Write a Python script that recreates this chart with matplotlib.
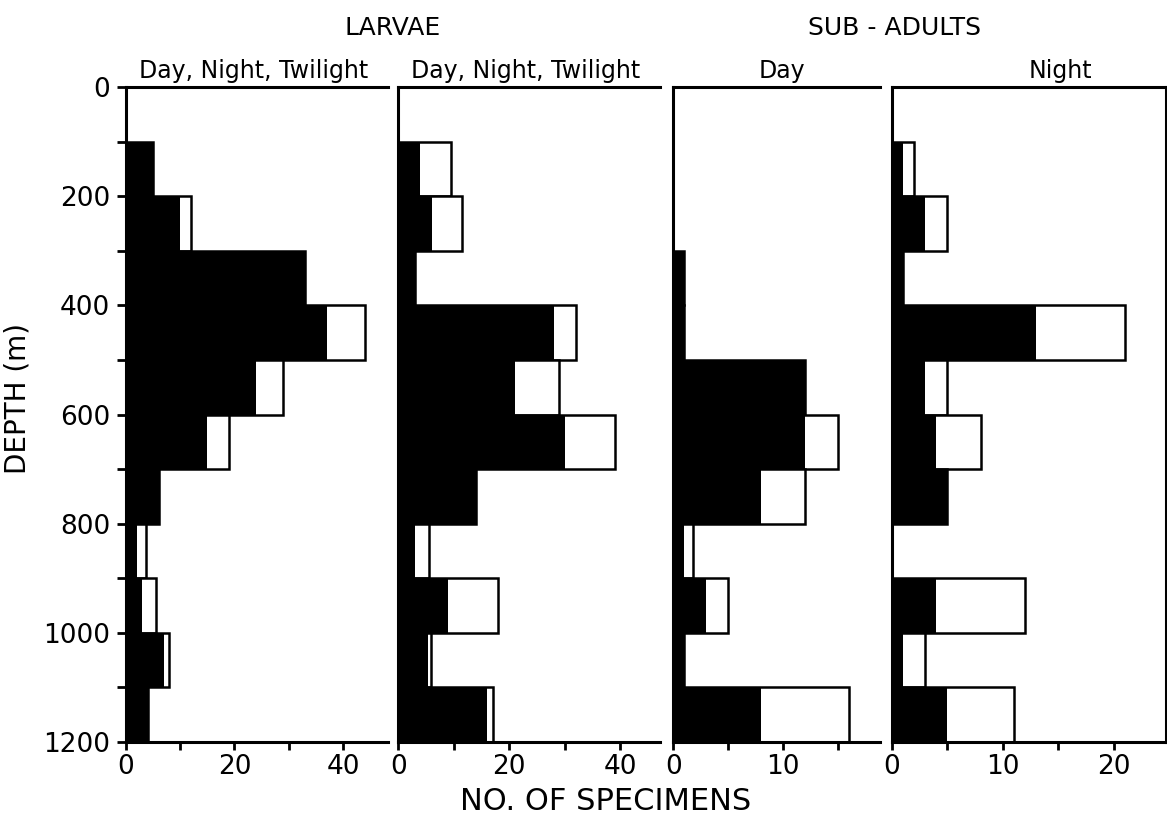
import matplotlib.pyplot as plt
import numpy as np

plt.rcParams['font.family'] = 'DejaVu Sans'

# depth bins (top of each 100 m bin)
depth = np.arange(0, 1200, 100)

# black = filled part, total = end of open (white) part
larvae_a_black = [0, 5, 10, 33, 37, 24, 15, 6, 2, 3, 7, 4]
larvae_a_total = [0, 5, 12, 33, 44, 29, 19, 6, 3.7, 5.5, 8, 4]
larvae_b_black = [0, 4, 6, 3, 28, 21, 30, 14, 3, 9, 5.3, 16]
larvae_b_total = [0, 9.5, 11.5, 3, 32, 29, 39, 14, 5.5, 18, 5.9, 17]
sub_day_black = [0, 0, 0, 1, 1, 12, 12, 8, 1, 3, 1, 8]
sub_day_total = [0, 0, 0, 1, 1, 12, 15, 12, 1.8, 5, 1, 16]
sub_night_black = [0, 1, 3, 1, 13, 3, 4, 5, 0, 4, 1, 5]
sub_night_total = [0, 2, 5, 1, 21, 5, 8, 5, 0, 12, 3, 11]

subtitles = ['Day, Night, Twilight', 'Day, Night, Twilight', 'Day', 'Night']

W, H = 1167, 827
fig = plt.figure(figsize=(W / 100, H / 100), dpi=100)

# pixel extents of each panel (left, right)
extents = [(126, 388), (398.3, 660), (673.3, 880), (891.7, 1166)]
top_px, bot_px = 87, 742
xmax = [48.3, 47.2, 18.8, 24.7]
majors = [[0, 20, 40], [0, 20, 40], [0, 10], [0, 10, 20]]
minors = [[10, 30], [10, 30], [5, 15], [5, 15]]
blacks = [larvae_a_black, larvae_b_black, sub_day_black, sub_night_black]
totals = [larvae_a_total, larvae_b_total, sub_day_total, sub_night_total]
sub_x = [254, 526, 782, 1060]

for i in range(4):
    l, r = extents[i]
    ax = fig.add_axes([l / W, 1 - bot_px / H, (r - l) / W, (bot_px - top_px) / H])
    ax.barh(depth, totals[i], height=100, align='edge', color='white',
            edgecolor='black', linewidth=1.8, zorder=2)
    ax.barh(depth, blacks[i], height=100, align='edge', color='black',
            edgecolor='none', zorder=3)
    ax.set_xlim(0, xmax[i])
    ax.set_ylim(1200, 0)
    for s in ax.spines.values():
        s.set_linewidth(2.2)
        s.set_zorder(4)
    if i < 3:
        ax.spines['right'].set_visible(False)
    ax.set_xticks(majors[i])
    ax.set_xticks(minors[i], minor=True)
    ax.tick_params(axis='x', which='both', direction='out', length=6, width=2,
                   labelsize=19, pad=3)
    if i == 0:
        ax.set_yticks(np.arange(0, 1201, 200))
        ax.set_yticks(np.arange(100, 1200, 200), minor=True)
        ax.tick_params(axis='y', which='both', direction='out', length=6.5, width=2,
                       labelsize=19, pad=5)
    else:
        ax.set_yticks([])
        ax.set_yticks([], minor=True)
    fig.text(sub_x[i] / W, 1 - 78 / H, subtitles[i], ha='center', va='baseline',
             fontsize=17)

fig.text(393 / W, 1 - 35 / H, 'LARVAE', ha='center', va='baseline', fontsize=18)
fig.text(895 / W, 1 - 35 / H, 'SUB - ADULTS', ha='center', va='baseline', fontsize=18)
fig.text(606 / W, 1 - 802 / H, 'NO. OF SPECIMENS', ha='center', va='center', fontsize=22)
fig.text(18 / W, 1 - 398 / H, 'DEPTH (m)', ha='center', va='center', rotation=90,
         fontsize=20)

plt.savefig('out.png', dpi=100)
